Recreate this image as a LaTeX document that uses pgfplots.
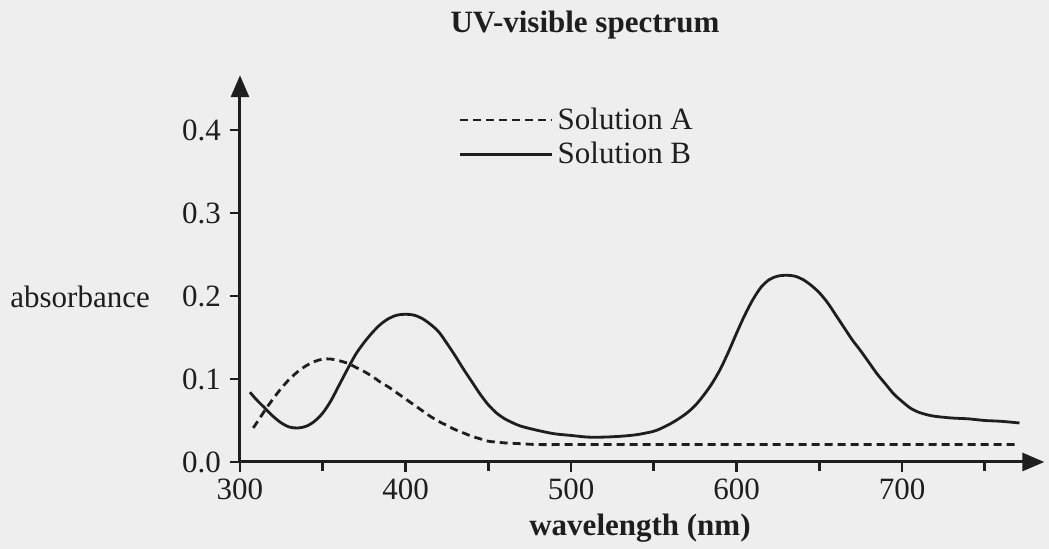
\documentclass[border=0pt]{standalone}
\usepackage{fontspec}
\setmainfont{Liberation Serif}
\usepackage{pgfplots}
\pgfplotsset{compat=1.18}
\usetikzlibrary{arrows.meta}
\definecolor{ink}{RGB}{30,30,30}
\definecolor{paper}{RGB}{238,238,238}
\begin{document}
\begin{tikzpicture}
\fill[paper] (-120pt,-43.5pt) rectangle (404.5pt,231pt);
\useasboundingbox (-120pt,-43.5pt) rectangle (404.5pt,231pt);
\begin{axis}[
  at={(0pt,0pt)}, anchor=south west,
  x=0.8275pt, y=415pt,
  xmin=300, xmax=786, ymin=0, ymax=0.466,
  axis lines=left,
  axis line style={ink, line width=1.5pt, -{Triangle[length=11pt,width=9pt]}},
  tick style={ink, line width=1.3pt},
  tick align=outside,
  major tick length=5pt, minor tick length=4.5pt,
  xtick={300,400,500,600,700}, minor xtick={350,450,550,650,750},
  ytick={0,0.1,0.2,0.3,0.4},
  yticklabel style={/pgf/number format/fixed, /pgf/number format/fixed zerofill, /pgf/number format/precision=1, xshift=-1pt},
  /pgf/number format/assume math mode=true,
  ticklabel style={font=\fontsize{15.5}{18}\selectfont, text=ink},
  clip=false,
  legend style={draw=none, fill=none, at={(axis cs:432,0.432)}, anchor=north west,
    font=\fontsize{15.5}{18}\selectfont, text=ink, row sep=1pt, inner sep=0pt, cells={anchor=west}},
  legend image code/.code={\draw[#1] (0pt,0pt) -- (46pt,0pt);},
]
\addplot[ink, line width=1.4pt, dash pattern=on 4pt off 2.5pt, smooth] coordinates {
(308,0.041) (312,0.053) (316,0.065) (320,0.076) (325,0.089) (330,0.100) (335,0.109)
(340,0.116) (345,0.121) (350,0.124) (355,0.124) (360,0.122) (365,0.119) (370,0.114)
(375,0.109) (380,0.103) (385,0.096) (390,0.090) (395,0.083) (400,0.076) (405,0.069)
(410,0.062) (415,0.055) (420,0.049) (425,0.044) (430,0.039) (435,0.035) (440,0.031)
(445,0.028) (450,0.025) (455,0.024) (460,0.023) (470,0.022) (480,0.021) (500,0.021)
(550,0.021) (600,0.021) (650,0.021) (700,0.021) (771,0.021)
};
\addlegendentry{Solution A}
\addplot[ink, line width=1.4pt, smooth] coordinates {
(306,0.084) (310,0.075) (315,0.065) (320,0.055) (325,0.047) (330,0.042) (335,0.041)
(340,0.043) (345,0.049) (350,0.059) (355,0.074) (360,0.093) (365,0.112) (370,0.130)
(375,0.144) (380,0.156) (385,0.166) (390,0.173) (395,0.177) (400,0.178) (405,0.177)
(410,0.173) (415,0.166) (420,0.157) (425,0.143) (430,0.128) (435,0.112) (440,0.097)
(445,0.082) (450,0.069) (455,0.059) (460,0.052) (465,0.047) (470,0.043) (480,0.038)
(490,0.034) (500,0.032) (510,0.030) (520,0.030) (530,0.031) (540,0.033) (550,0.037)
(555,0.041) (560,0.046) (565,0.052) (570,0.059) (575,0.068) (580,0.080) (585,0.094)
(590,0.111) (595,0.132) (600,0.155) (605,0.177) (610,0.196) (615,0.211) (620,0.220)
(625,0.224) (630,0.225) (635,0.224) (640,0.220) (645,0.213) (650,0.204) (655,0.192)
(660,0.177) (665,0.162) (670,0.147) (675,0.134) (680,0.120) (685,0.106) (690,0.094)
(695,0.082) (700,0.073) (705,0.065) (710,0.060) (715,0.057) (720,0.055) (730,0.053)
(740,0.052) (750,0.050) (760,0.049) (771,0.047)
};
\addlegendentry{Solution B}
\end{axis}
\node[font=\bfseries\fontsize{15.5}{18}\selectfont, text=ink, anchor=base] at (172.5pt,214.5pt) {UV-visible spectrum};
\node[font=\fontsize{15.5}{18}\selectfont, text=ink, anchor=base west, inner sep=0pt] at (-115pt,77pt) {absorbance};
\node[font=\bfseries\fontsize{15.5}{18}\selectfont, text=ink, anchor=base] at (200pt,-37pt) {wavelength (nm)};
\end{tikzpicture}
\end{document}
